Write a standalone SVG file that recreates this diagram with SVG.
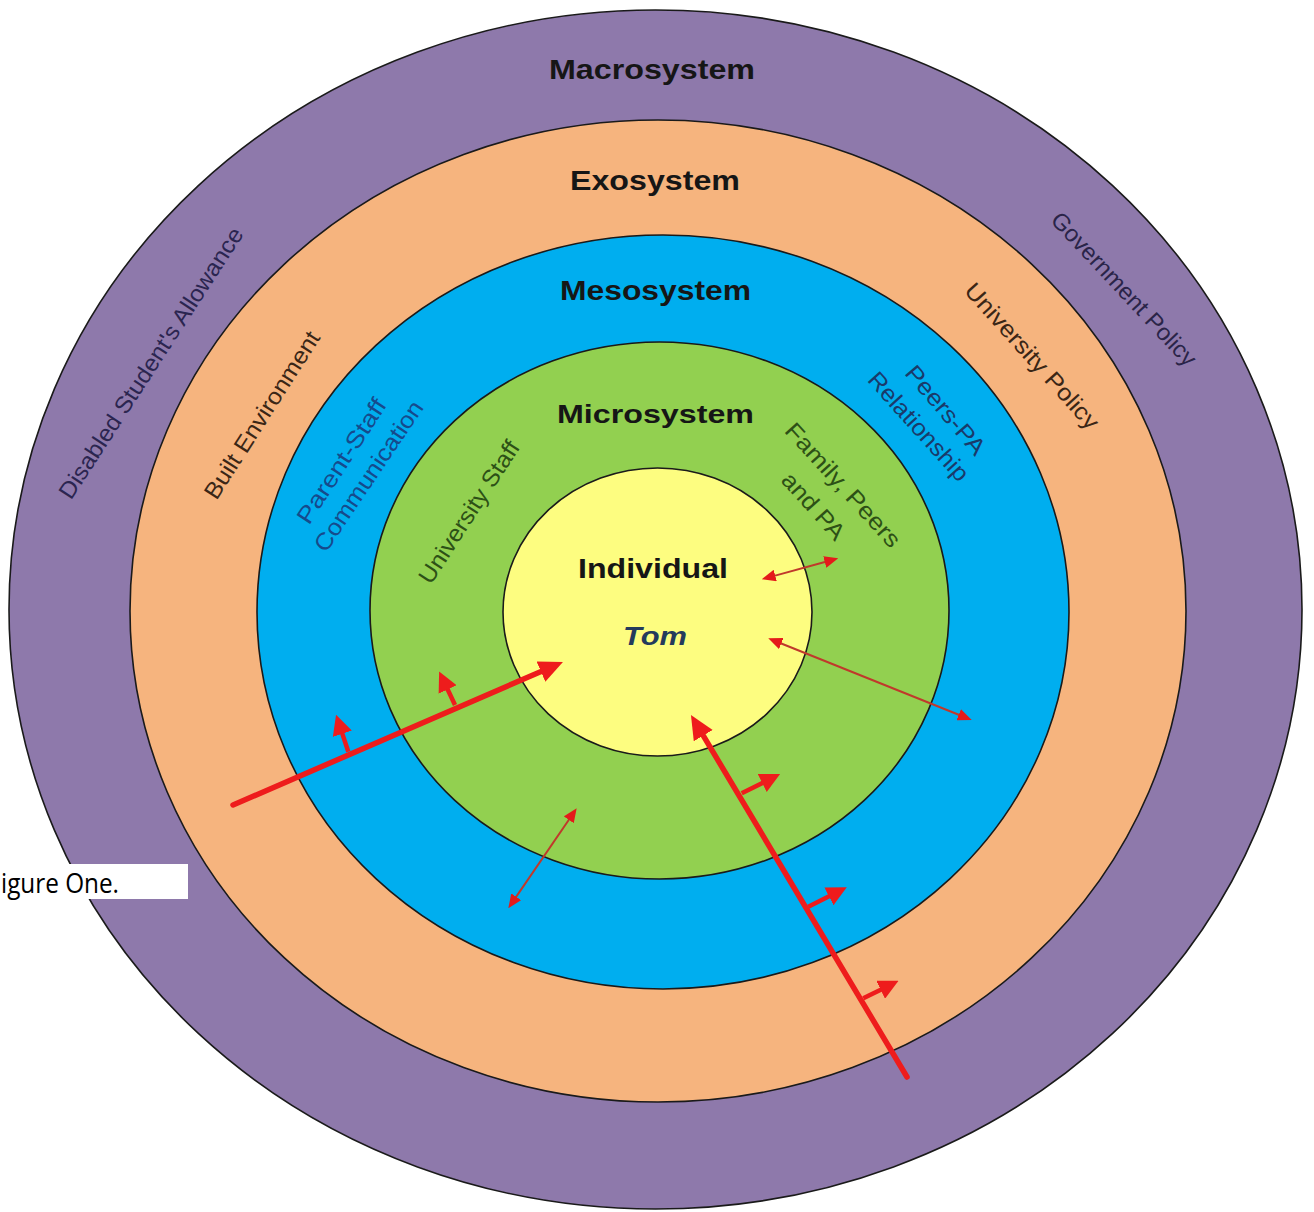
<svg xmlns="http://www.w3.org/2000/svg" width="1314" height="1212" viewBox="0 0 1314 1212">
<defs>
<style>
.ring{stroke:#1a1a1a;stroke-width:1.6}
.title{font-family:"Liberation Sans",Arial,sans-serif;font-weight:bold;fill:#161616;text-anchor:middle}
.lbl{font-family:"Liberation Sans",Arial,sans-serif;font-size:23.5px;text-anchor:middle;dominant-baseline:central}
.big{stroke:#ee1c1c;stroke-width:5.5;fill:none;stroke-linecap:round}
.small{stroke:#ee1c1c;stroke-width:4.5;fill:none}
.thin{stroke:#c0392b;stroke-width:2;fill:none}
</style>
<marker id="bigHead" markerUnits="userSpaceOnUse" markerWidth="24" markerHeight="24" viewBox="0 0 24 24" refX="4" refY="12" orient="auto"><path d="M0,1 L24,12 L0,23 z" fill="#ee1c1c"/></marker>
<marker id="smallHead" markerUnits="userSpaceOnUse" markerWidth="20" markerHeight="20" viewBox="0 0 20 20" refX="3" refY="10" orient="auto"><path d="M0,0 L20,10 L0,20 z" fill="#ee1c1c"/></marker>
<marker id="thinHead" markerUnits="userSpaceOnUse" markerWidth="14" markerHeight="12" viewBox="0 0 14 12" refX="2" refY="6" orient="auto-start-reverse"><path d="M0,0 L14,6 L0,12 z" fill="#e41a1a"/></marker>
</defs>
<rect x="0" y="0" width="1314" height="1212" fill="#ffffff"/>

<g id="macrosystem">
<ellipse class="ring" cx="655.5" cy="609.5" rx="646.5" ry="599.5" fill="#8e79ab"/>
<text class="title" x="652" y="79" font-size="28" textLength="206" lengthAdjust="spacingAndGlyphs">Macrosystem</text>
<text class="lbl" fill="#2b2550" transform="translate(151,363) rotate(-57)" textLength="318" lengthAdjust="spacingAndGlyphs">Disabled Student's Allowance</text>
<text class="lbl" fill="#2a2448" transform="translate(1124,289) rotate(47)" textLength="201" lengthAdjust="spacingAndGlyphs">Government Policy</text>
</g>

<g id="exosystem">
<ellipse class="ring" cx="658" cy="611" rx="528" ry="491" fill="#f6b47e"/>
<text class="title" x="655" y="190" font-size="28" textLength="170" lengthAdjust="spacingAndGlyphs">Exosystem</text>
<text class="lbl" fill="#3a2616" transform="translate(262,415) rotate(-57.4)" textLength="194" lengthAdjust="spacingAndGlyphs">Built Environment</text>
<text class="lbl" fill="#3a2616" transform="translate(1032,356) rotate(48)" textLength="188" lengthAdjust="spacingAndGlyphs">University Policy</text>
</g>

<g id="mesosystem">
<ellipse class="ring" cx="663" cy="612" rx="406" ry="377" fill="#00aeef"/>
<text class="title" x="655.5" y="300" font-size="27" textLength="191" lengthAdjust="spacingAndGlyphs">Mesosystem</text>
<text class="lbl" fill="#164a8c" transform="translate(341.5,461) rotate(-57)" textLength="144" lengthAdjust="spacingAndGlyphs">Parent-Staff</text>
<text class="lbl" fill="#164a8c" transform="translate(368.5,476) rotate(-56)" textLength="176" lengthAdjust="spacingAndGlyphs">Communication</text>
<text class="lbl" fill="#1a3a6a" transform="translate(945.5,410) rotate(49.5)" textLength="110" lengthAdjust="spacingAndGlyphs">Peers-PA</text>
<text class="lbl" fill="#1a3a6a" transform="translate(918.5,426.5) rotate(48)" textLength="138" lengthAdjust="spacingAndGlyphs">Relationship</text>
</g>

<g id="microsystem">
<ellipse class="ring" cx="659.5" cy="610.5" rx="289.5" ry="268.5" fill="#92d050"/>
<text class="title" x="655.5" y="423" font-size="26" textLength="197" lengthAdjust="spacingAndGlyphs">Microsystem</text>
<text class="lbl" fill="#2d5016" transform="translate(469,512) rotate(-57)" textLength="165" lengthAdjust="spacingAndGlyphs">University Staff</text>
<text class="lbl" fill="#2d5016" transform="translate(843,485) rotate(47.7)" textLength="159" lengthAdjust="spacingAndGlyphs">Family, Peers</text>
<text class="lbl" fill="#2d5016" transform="translate(813.5,506) rotate(48)" textLength="82" lengthAdjust="spacingAndGlyphs">and PA</text>
</g>

<g id="individual">
<ellipse class="ring" cx="657.5" cy="612" rx="154.5" ry="144" fill="#fdfd80"/>
<text class="title" x="653" y="578" font-size="28" textLength="150" lengthAdjust="spacingAndGlyphs">Individual</text>
<text class="title" x="655" y="645" font-size="26" font-style="italic" style="fill:#243b5c" textLength="64" lengthAdjust="spacingAndGlyphs">Tom</text>
</g>

<g id="connectors">
<path class="big" d="M233,805 L544.6,670" marker-end="url(#bigHead)"/>
<path class="small" d="M348.3,751.7 L341.4,730.9" marker-end="url(#smallHead)"/>
<path class="small" d="M455,705 L446.4,686.8" marker-end="url(#smallHead)"/>
<path class="big" d="M907,1077 L701.2,732.2" marker-end="url(#bigHead)"/>
<path class="small" d="M741.7,793.3 L764.9,781.7" marker-end="url(#smallHead)"/>
<path class="small" d="M808.3,906.7 L831.6,895" marker-end="url(#smallHead)"/>
<path class="small" d="M863.3,998.3 L883.3,988.4" marker-end="url(#smallHead)"/>
<path class="thin" d="M773.3,576.1 L826.7,561.5" marker-start="url(#thinHead)" marker-end="url(#thinHead)"/>
<path class="thin" d="M779.4,642.8 L960.6,715.5" marker-start="url(#thinHead)" marker-end="url(#thinHead)"/>
<path class="thin" d="M569.9,818.2 L515.1,898.4" marker-start="url(#thinHead)" marker-end="url(#thinHead)"/>
</g>

<g id="caption">
<rect x="0" y="864" width="188" height="35" fill="#ffffff"/>
<text x="1" y="893" font-family="'Open Sans','Noto Sans',sans-serif" font-size="28" fill="#000000" textLength="118" lengthAdjust="spacingAndGlyphs">igure One.</text>
</g>
</svg>
